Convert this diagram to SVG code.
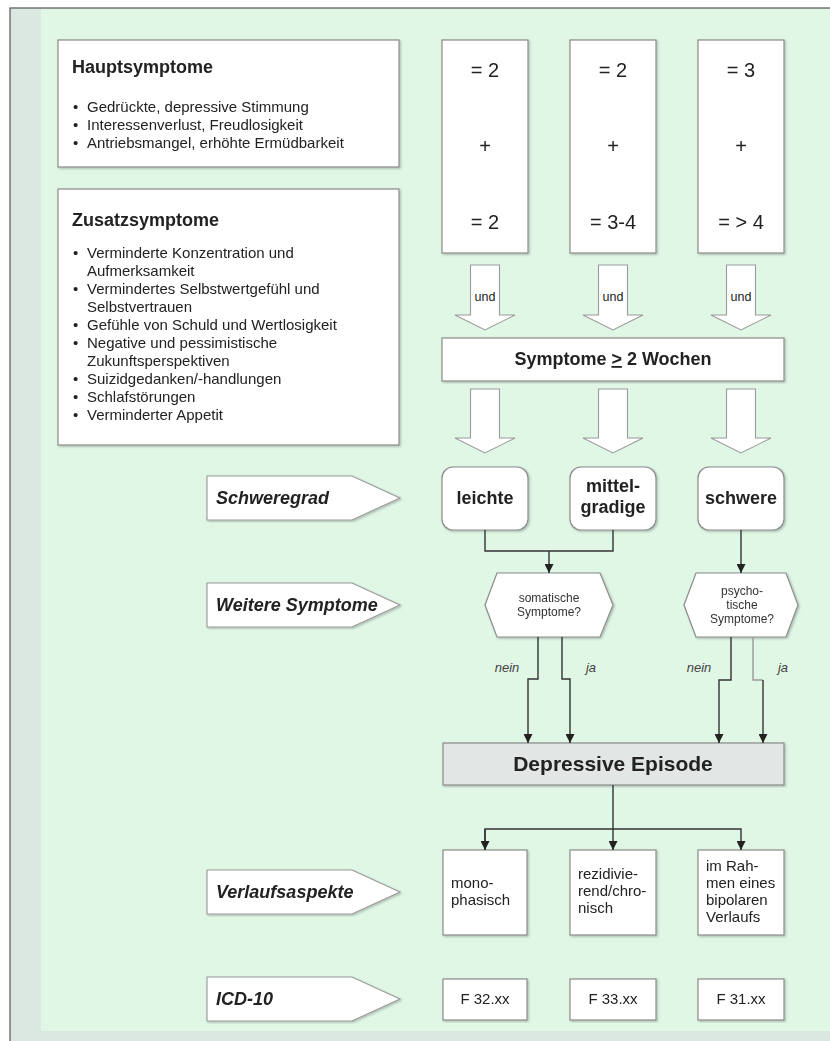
<svg xmlns="http://www.w3.org/2000/svg" width="830" height="1041" viewBox="0 0 830 1041">
<defs>
<style>
text{font-family:"Liberation Sans",Arial,sans-serif;fill:#222}
.box{fill:#fff;stroke:#8a8a8a;stroke-width:1.2}
.grey{fill:#e2e6e4;stroke:#8a8a8a;stroke-width:1.2}
.blk{fill:#fff;stroke:#9a9a9a;stroke-width:1.1}
.tag{fill:#fff;stroke:#999;stroke-width:1.1}
.ttl{font-size:18px;font-weight:bold}
.li{font-size:15px}
.col{font-size:20px;text-anchor:middle}
.und{font-size:12.5px;text-anchor:middle}
.sev{font-size:18px;font-weight:bold;text-anchor:middle}
.lab{font-size:18px;font-weight:bold;font-style:italic}
.hex{font-size:12px;text-anchor:middle;fill:#333}
.yn{font-size:13px;font-style:italic;text-anchor:middle;fill:#444}
.vl{font-size:15px}
.icd{font-size:15px;text-anchor:middle}
.ln{fill:none;stroke:#333;stroke-width:1.4}
.lnl{fill:none;stroke:#999;stroke-width:1.4}
</style>
<marker id="ah" viewBox="0 0 10 10" refX="10" refY="5" markerWidth="9" markerHeight="9" markerUnits="userSpaceOnUse" orient="auto">
<path d="M0,0 L10,5 L0,10 z" fill="#222"/>
</marker>
<filter id="sh" x="-5%" y="-5%" width="110%" height="110%">
<feDropShadow dx="1.2" dy="1.2" stdDeviation="0.8" flood-color="#000" flood-opacity="0.25"/>
</filter>
</defs>

<g id="background">
<rect x="10" y="8" width="830" height="1040" fill="#dae8e1" stroke="#555" stroke-width="1.2"/>
<rect x="41" y="9" width="789" height="1022" fill="#e0f7e6"/>
</g>

<g id="hauptsymptome" filter="url(#sh)">
<rect class="box" x="58" y="40" width="341" height="127"/>
<text class="ttl" x="72" y="73">Hauptsymptome</text>
<text class="li" x="73" y="112">•</text><text class="li" x="87" y="112">Gedrückte, depressive Stimmung</text>
<text class="li" x="73" y="130">•</text><text class="li" x="87" y="130">Interessenverlust, Freudlosigkeit</text>
<text class="li" x="73" y="148">•</text><text class="li" x="87" y="148">Antriebsmangel, erhöhte Ermüdbarkeit</text>
</g>

<g id="zusatzsymptome" filter="url(#sh)">
<rect class="box" x="58" y="189" width="341" height="256"/>
<text class="ttl" x="72" y="226">Zusatzsymptome</text>
<text class="li" x="73" y="258">•</text><text class="li" x="87" y="258">Verminderte Konzentration und</text>
<text class="li" x="87" y="276">Aufmerksamkeit</text>
<text class="li" x="73" y="294">•</text><text class="li" x="87" y="294">Vermindertes Selbstwertgefühl und</text>
<text class="li" x="87" y="312">Selbstvertrauen</text>
<text class="li" x="73" y="330">•</text><text class="li" x="87" y="330">Gefühle von Schuld und Wertlosigkeit</text>
<text class="li" x="73" y="348">•</text><text class="li" x="87" y="348">Negative und pessimistische</text>
<text class="li" x="87" y="366">Zukunftsperspektiven</text>
<text class="li" x="73" y="384">•</text><text class="li" x="87" y="384">Suizidgedanken/-handlungen</text>
<text class="li" x="73" y="402">•</text><text class="li" x="87" y="402">Schlafstörungen</text>
<text class="li" x="73" y="420">•</text><text class="li" x="87" y="420">Verminderter Appetit</text>
</g>

<g id="col1" filter="url(#sh)">
<rect class="box" x="442" y="40" width="86" height="213"/>
<text class="col" x="485" y="77">= 2</text>
<text class="col" x="485" y="153">+</text>
<text class="col" x="485" y="229">= 2</text>
</g>
<g id="col2" filter="url(#sh)">
<rect class="box" x="570" y="40" width="86" height="213"/>
<text class="col" x="613" y="77">= 2</text>
<text class="col" x="613" y="153">+</text>
<text class="col" x="613" y="229">= 3-4</text>
</g>
<g id="col3" filter="url(#sh)">
<rect class="box" x="698" y="40" width="86" height="213"/>
<text class="col" x="741" y="77">= 3</text>
<text class="col" x="741" y="153">+</text>
<text class="col" x="741" y="229">= &gt; 4</text>
</g>

<g id="und-arrows">
<polygon class="blk" points="470.5,265 499.5,265 499.5,315 515,315 485,330 455,315 470.5,315"/>
<text class="und" x="485" y="301">und</text>
<polygon class="blk" points="598.5,265 627.5,265 627.5,315 643,315 613,330 583,315 598.5,315"/>
<text class="und" x="613" y="301">und</text>
<polygon class="blk" points="726.5,265 755.5,265 755.5,315 771,315 741,330 711,315 726.5,315"/>
<text class="und" x="741" y="301">und</text>
</g>

<g id="dauer" filter="url(#sh)">
<rect class="box" x="442" y="338" width="342" height="43"/>
<text class="sev" x="613" y="365">Symptome <tspan text-decoration="underline">&gt;</tspan> 2 Wochen</text>
</g>

<g id="down-arrows">
<polygon class="blk" points="470.5,389 499.5,389 499.5,438 515,438 485,453 455,438 470.5,438"/>
<polygon class="blk" points="598.5,389 627.5,389 627.5,438 643,438 613,453 583,438 598.5,438"/>
<polygon class="blk" points="726.5,389 755.5,389 755.5,438 771,438 741,453 711,438 726.5,438"/>
</g>

<g id="label-schweregrad" filter="url(#sh)">
<polygon class="tag" points="207,476 352,476 400,498 352,520 207,520"/>
<text class="lab" x="216" y="504">Schweregrad</text>
</g>
<g id="label-weitere" filter="url(#sh)">
<polygon class="tag" points="207,583 352,583 400,605 352,627 207,627"/>
<text class="lab" x="216" y="611">Weitere Symptome</text>
</g>
<g id="label-verlauf" filter="url(#sh)">
<polygon class="tag" points="207,870 352,870 400,892 352,914 207,914"/>
<text class="lab" x="216" y="898">Verlaufsaspekte</text>
</g>
<g id="label-icd" filter="url(#sh)">
<polygon class="tag" points="207,977 352,977 400,999 352,1021 207,1021"/>
<text class="lab" x="216" y="1005">ICD-10</text>
</g>

<g id="leichte" filter="url(#sh)">
<rect class="box" x="442" y="467" width="86" height="63" rx="11"/>
<text class="sev" x="485" y="504">leichte</text>
</g>
<g id="mittelgradige" filter="url(#sh)">
<rect class="box" x="570" y="467" width="86" height="63" rx="11"/>
<text class="sev" x="613" y="492">mittel-</text>
<text class="sev" x="613" y="513">gradige</text>
</g>
<g id="schwere" filter="url(#sh)">
<rect class="box" x="698" y="467" width="86" height="63" rx="11"/>
<text class="sev" x="741" y="504">schwere</text>
</g>

<g id="somatisch" filter="url(#sh)">
<polygon class="box" points="485,605 497,573 600,573 613,605 600,637 497,637"/>
<text class="hex" x="549" y="602">somatische</text>
<text class="hex" x="549" y="616">Symptome?</text>
</g>
<g id="psychotisch" filter="url(#sh)">
<polygon class="box" points="684,605 696,573 786,573 798,605 786,637 696,637"/>
<text class="hex" x="742" y="595">psycho-</text>
<text class="hex" x="742" y="609">tische</text>
<text class="hex" x="742" y="623">Symptome?</text>
</g>

<g id="depressive-episode" filter="url(#sh)">
<rect class="grey" x="443" y="743" width="341" height="42"/>
<text x="613" y="771" font-size="21" font-weight="bold" text-anchor="middle">Depressive Episode</text>
</g>

<g id="monophasisch" filter="url(#sh)">
<rect class="box" x="443" y="850" width="84" height="85"/>
<text class="vl" x="451" y="888">mono-</text>
<text class="vl" x="451" y="905">phasisch</text>
</g>
<g id="rezidivierend" filter="url(#sh)">
<rect class="box" x="570" y="850" width="86" height="85"/>
<text class="vl" x="578" y="879">rezidivie-</text>
<text class="vl" x="578" y="896">rend/chro-</text>
<text class="vl" x="578" y="913">nisch</text>
</g>
<g id="bipolar" filter="url(#sh)">
<rect class="box" x="698" y="850" width="86" height="85"/>
<text class="vl" x="706" y="871">im Rah-</text>
<text class="vl" x="706" y="888">men eines</text>
<text class="vl" x="706" y="905">bipolaren</text>
<text class="vl" x="706" y="922">Verlaufs</text>
</g>

<g id="icd-f32" filter="url(#sh)">
<rect class="box" x="443" y="979" width="84" height="41"/>
<text class="icd" x="485" y="1004">F 32.xx</text>
</g>
<g id="icd-f33" filter="url(#sh)">
<rect class="box" x="570" y="979" width="86" height="41"/>
<text class="icd" x="613" y="1004">F 33.xx</text>
</g>
<g id="icd-f31" filter="url(#sh)">
<rect class="box" x="698" y="979" width="86" height="41"/>
<text class="icd" x="741" y="1004">F 31.xx</text>
</g>

<g id="connectors">
<polyline class="ln" points="485,530 485,551 613,551 613,530"/>
<line class="ln" x1="549" y1="551" x2="549" y2="573" marker-end="url(#ah)"/>
<line class="ln" x1="741" y1="530" x2="741" y2="573" marker-end="url(#ah)"/>
<polyline class="ln" points="538,637 538,679 528,679 528,743" marker-end="url(#ah)"/>
<polyline class="ln" points="562,637 562,679 570,679 570,743" marker-end="url(#ah)"/>
<polyline class="ln" points="731,637 731,680 719,680 719,743" marker-end="url(#ah)"/>
<polyline class="lnl" points="753,637 753,680 763,680"/>
<line class="ln" x1="763" y1="680" x2="763" y2="743" marker-end="url(#ah)"/>
<line class="ln" x1="613" y1="785" x2="613" y2="850" marker-end="url(#ah)"/>
<polyline class="ln" points="485,850 485,829 741,829 741,850" marker-end="url(#ah)"/>
<line class="ln" x1="485" y1="829" x2="485" y2="850" marker-end="url(#ah)"/>
<text class="yn" x="507" y="672">nein</text>
<text class="yn" x="591" y="672">ja</text>
<text class="yn" x="699" y="672">nein</text>
<text class="yn" x="783" y="672">ja</text>
</g>
</svg>
